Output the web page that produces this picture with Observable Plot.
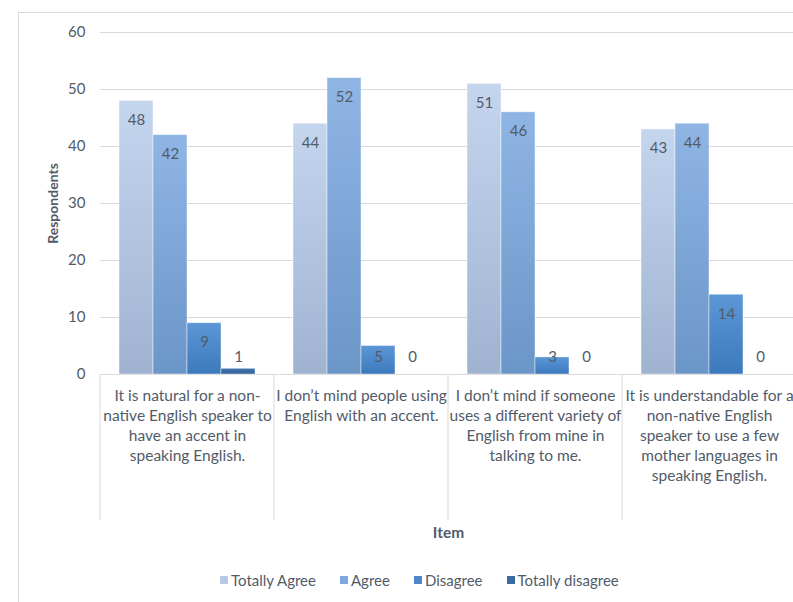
<!DOCTYPE html>
<html><head><meta charset="utf-8">
<script src="https://cdn.jsdelivr.net/npm/d3@7"></script>
<script src="https://cdn.jsdelivr.net/npm/@observablehq/plot@0.6"></script>
<style>
html,body{margin:0;padding:0;background:#fff;overflow:hidden;width:793px;height:602px;}
#wrap{position:relative;width:793px;height:602px;overflow:hidden;font-family:Lato,"DejaVu Sans Condensed",sans-serif;color:#525b68;}
#frame{position:absolute;left:18px;top:12px;width:820px;height:640px;border-left:1px solid #d9d9d9;border-top:1px solid #d9d9d9;}
#chart{position:absolute;left:0;top:0;width:800px;}
#chart svg{max-width:none !important;}
#legend{position:absolute;left:220px;top:570px;display:flex;font-size:15px;line-height:20px;white-space:nowrap;}
#legend .item{display:flex;align-items:center;margin-right:24px;}
#legend .sw{width:8px;height:8px;margin-right:3px;display:inline-block;}
</style></head>
<body>
<div id="wrap"><div id="frame"></div><div id="chart"></div><div id="legend"></div></div>
<script>
const items = [
  "It is natural for a non-\nnative English speaker to\nhave an accent in\nspeaking English.",
  "I don\u2019t mind people using\nEnglish with an accent.",
  "I don\u2019t mind if someone\nuses a different variety of\nEnglish from mine in\ntalking to me.",
  "It is understandable for a\nnon-native English\nspeaker to use a few\nmother languages in\nspeaking English."
];
const series = ["Totally Agree", "Agree", "Disagree", "Totally disagree"];
const totallyAgree = [48, 44, 51, 43];
const agree = [42, 52, 46, 44];
const disagree = [9, 5, 3, 14];
const totallyDisagree = [1, 0, 0, 0];
const yTicks = [0, 10, 20, 30, 40, 50, 60];

const gradStops = [
  ["#c4d5ee", "#9fb3d1"],
  ["#8fb5e4", "#6b96c8"],
  ["#5c96d6", "#3c7abd"],
  ["#3e71aa", "#34629a"]
];
const legendColors = ["#b7c9e7", "#7ea7dc", "#4a88ca", "#3a6aa0"];
const gradIds = ["g-ta", "g-a", "g-d", "g-td"];

const valuesBySeries = [totallyAgree, agree, disagree, totallyDisagree];
const rows = [];
items.forEach((item, i) => series.forEach((s, j) => rows.push({item, series: s, value: valuesBySeries[j][i]})));

const textColor = "#525b68";
const font = "Lato,\"DejaVu Sans Condensed\",sans-serif";

const plot = Plot.plot({
  width: 800,
  height: 602,
  marginLeft: 100,
  marginRight: 4,
  marginTop: 32,
  marginBottom: 228,
  style: {fontFamily: font, fontSize: "15px", color: textColor, background: "transparent", overflow: "visible", maxWidth: "none"},
  fx: {domain: items, padding: 0},
  x: {domain: series, paddingInner: 0, paddingOuter: 0.5, axis: null},
  y: {domain: [0, 60]},
  color: {domain: series, range: gradIds.map(id => `url(#${id})`)},
  marks: [
    Plot.gridY(yTicks, {stroke: "#d9d9d9", strokeOpacity: 1, strokeWidth: 1}),
    Plot.axisY(yTicks, {tickSize: 0, tickPadding: 15, fontSize: 15, fill: textColor,
      label: "Respondents", labelAnchor: "center", labelOffset: 52, labelArrow: "none"}),
    Plot.axisFx({anchor: "bottom", tickSize: 0, tickPadding: 12, fontSize: 15.5, lineHeight: 1.29, fill: textColor,
      label: "Item", labelAnchor: "center", labelOffset: 163, labelArrow: "none"}),
    Plot.barY(rows.filter(d => d.value > 0), {fx: "item", x: "series", y: "value", fill: "series",
      stroke: "#ffffff", strokeOpacity: 0.55, strokeWidth: 0.8}),
    Plot.text(rows, {fx: "item", x: "series", y: d => Math.max(d.value, 6.3), text: d => String(d.value),
      dy: 19, fill: textColor, fontSize: 15})
  ]
});

document.getElementById("chart").appendChild(plot);
const svg = d3.select(plot);
const defs = svg.insert("defs", ":first-child");
gradIds.forEach((id, i) => {
  const g = defs.append("linearGradient").attr("id", id).attr("x1", 0).attr("y1", 0).attr("x2", 0).attr("y2", 1);
  g.append("stop").attr("offset", "0%").attr("stop-color", gradStops[i][0]);
  g.append("stop").attr("offset", "100%").attr("stop-color", gradStops[i][1]);
});
svg.selectAll('[aria-label="y-axis label"] text').attr("font-weight", "bold").attr("font-size", 14);
svg.selectAll('[aria-label="fx-axis label"] text').attr("font-weight", "bold").attr("font-size", 15.5);

// group separators below the baseline
const fx = plot.scale("fx");
const y = plot.scale("y");
const y0 = y.apply(0);
const edges = items.map(it => fx.apply(it)).concat([fx.apply(items[items.length - 1]) + fx.bandwidth]);
const sep = svg.append("g");
edges.forEach(xp => sep.append("line").attr("x1", xp).attr("x2", xp).attr("y1", y0).attr("y2", y0 + 146)
  .attr("stroke", "#d9d9d9").attr("stroke-width", 1));

const legend = d3.select("#legend");
series.forEach((s, i) => {
  const it = legend.append("div").attr("class", "item");
  it.append("span").attr("class", "sw").style("background", legendColors[i]);
  it.append("span").text(s);
});
</script>
</body></html>
